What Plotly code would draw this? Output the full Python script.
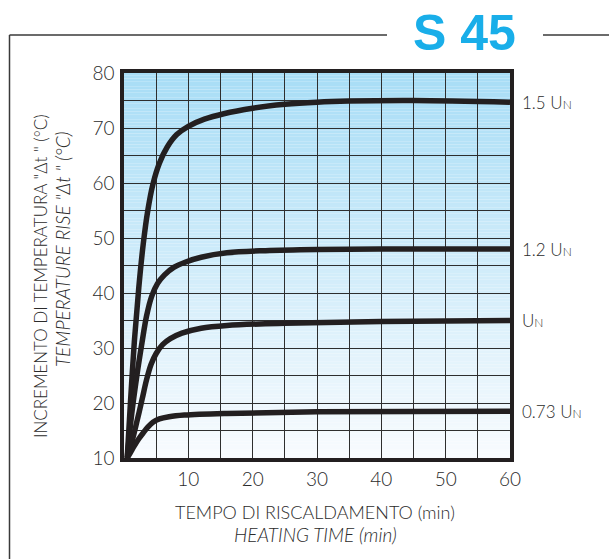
import plotly.graph_objects as go

# Heating curves of the S 45 unit: temperature rise vs heating time
time_15 = [0.5, 1.0, 1.6, 2.3, 3.0, 3.7, 4.5, 5.5, 6.7, 8.2, 10, 12.5, 15.5, 20, 25, 30, 35, 45, 60]
rise_15 = [10, 20, 31, 41, 49, 55, 59.8, 63.6, 66.5, 68.8, 70.3, 71.6, 72.6, 73.6, 74.3, 74.7, 74.9, 75, 74.7]

time_12 = [0.5, 1.2, 2.0, 2.8, 3.5, 4.3, 5.2, 6.3, 7.8, 9.5, 12, 16, 22, 30, 45, 60]
rise_12 = [10, 18, 25, 31, 35.8, 39.4, 41.7, 43.3, 44.7, 45.6, 46.5, 47.3, 47.7, 47.9, 48, 48]

time_10 = [0.5, 1.2, 2.0, 2.8, 3.5, 4.2, 5.0, 6.0, 7.2, 9, 12, 16, 25, 40, 60]
rise_10 = [10, 12.8, 16.6, 20.6, 24.2, 27.0, 29.0, 30.6, 31.7, 32.7, 33.6, 34.1, 34.5, 34.8, 35]

time_073 = [0.5, 1.0, 1.6, 2.3, 3.0, 3.7, 4.5, 5.5, 7, 9.4, 16, 30, 60]
rise_073 = [10, 11, 12.2, 13.5, 14.6, 15.6, 16.5, 17.1, 17.5, 17.8, 18.1, 18.4, 18.5]

series_labels = ["1.5 U<span style='font-size:12px'>N</span>",
                 "1.2 U<span style='font-size:12px'>N</span>",
                 "U<span style='font-size:12px'>N</span>",
                 "0.73 U<span style='font-size:12px'>N</span>"]

x_ticks = [10, 20, 30, 40, 50, 60]
y_ticks = [10, 20, 30, 40, 50, 60, 70, 80]

title_text = "S 45"
y_title_1 = "INCREMENTO DI TEMPERATURA \"\u0394t \" (\u00b0C)"
y_title_2 = "<i>TEMPERATURE RISE \"\u0394t \" (\u00b0C)</i>"
x_title_1 = "TEMPO DI RISCALDAMENTO (min)"
x_title_2 = "<i>HEATING TIME (min)</i>"

# page geometry (pixels)
W, H = 609, 559
L, R, T, B = 124, 510, 73, 458
X_RANGE = [0, 60]
Y_RANGE = [10, 80]


def fx(px):
    return (px - L) / (R - L)


def fy(py):
    return (B - py) / (B - T)


INK = "#231f20"
TXT = "#2b2b2b"
FONT = "Lato, 'Open Sans', sans-serif"

fig = go.Figure()

for t, v in [(time_15, rise_15), (time_12, rise_12), (time_10, rise_10), (time_073, rise_073)]:
    fig.add_trace(go.Scatter(
        x=t, y=v, mode="lines",
        line=dict(color=INK, width=5.5, shape="spline", smoothing=1.0),
        showlegend=False, hoverinfo="skip",
    ))

shapes = []
# vertical blue-to-white background, banded below the grid
top_c = (168, 221, 246)
bot_c = (248, 251, 254)
n_bands = 140
for i in range(n_bands):
    f = i / (n_bands - 1)
    c = tuple(round(bot_c[k] + (top_c[k] - bot_c[k]) * f) for k in range(3))
    y0 = Y_RANGE[0] + (Y_RANGE[1] - Y_RANGE[0]) * i / n_bands
    y1 = Y_RANGE[0] + (Y_RANGE[1] - Y_RANGE[0]) * (i + 1) / n_bands
    shapes.append(dict(type="rect", xref="paper", yref="y", x0=0, x1=1, y0=y0, y1=y1,
                       fillcolor="rgb(%d,%d,%d)" % c, line=dict(width=0), layer="below"))

# outer frame with a gap for the heading
frame = dict(color="#3a3a3a", width=1.5)
shapes.append(dict(type="line", xref="paper", yref="paper",
                   x0=fx(9.5), x1=fx(9.5), y0=fy(35), y1=fy(562), line=frame))
shapes.append(dict(type="line", xref="paper", yref="paper",
                   x0=fx(9.5), x1=fx(387), y0=fy(35), y1=fy(35), line=frame))
shapes.append(dict(type="line", xref="paper", yref="paper",
                   x0=fx(543), x1=fx(612), y0=fy(35), y1=fy(35), line=frame))

annotations = [
    dict(text=title_text, xref="paper", yref="paper", x=fx(464), y=fy(33),
         xanchor="center", yanchor="middle", showarrow=False,
         font=dict(family="'Liberation Sans', Arial, sans-serif",
                   size=50, color="#19aee9", weight="bold")),
    dict(text=y_title_1, xref="paper", yref="paper", x=fx(40), y=fy(276), textangle=-90,
         xanchor="center", yanchor="middle", showarrow=False,
         font=dict(family=FONT, size=17, color=TXT, weight=300)),
    dict(text=y_title_2, xref="paper", yref="paper", x=fx(62), y=fy(250), textangle=-90,
         xanchor="center", yanchor="middle", showarrow=False,
         font=dict(family=FONT, size=19, color=TXT, weight=300)),
    dict(text=x_title_1, xref="paper", yref="paper", x=fx(315), y=fy(512),
         xanchor="center", yanchor="middle", showarrow=False,
         font=dict(family=FONT, size=18, color=TXT, weight=300)),
    dict(text=x_title_2, xref="paper", yref="paper", x=fx(315), y=fy(534),
         xanchor="center", yanchor="middle", showarrow=False,
         font=dict(family=FONT, size=19, color=TXT, weight=300)),
]

for lbl, t, v in zip(series_labels,
                     [time_15, time_12, time_10, time_073],
                     [rise_15, rise_12, rise_10, rise_073]):
    annotations.append(dict(text=lbl, x=t[-1], y=v[-1], xref="x", yref="y",
                            xanchor="left", yanchor="middle", xshift=10, showarrow=False,
                            font=dict(family=FONT, size=17, color=TXT, weight=300)))

grid_c = "#2e2e2e"
tick_font = dict(family=FONT, size=19, color=TXT, weight=300)
fig.update_layout(
    width=W, height=H,
    margin=dict(l=L, r=W - R, t=T, b=H - B),
    paper_bgcolor="white", plot_bgcolor="white",
    shapes=shapes, annotations=annotations,
    xaxis=dict(range=X_RANGE, tickvals=x_ticks, showgrid=True, gridcolor=grid_c, gridwidth=1,
               minor=dict(dtick=5, tick0=0, showgrid=True, gridcolor=grid_c, gridwidth=1),
               showline=True, mirror=True, linecolor=INK, linewidth=3.5,
               ticks="", zeroline=False, ticklabelstandoff=1, tickfont=tick_font),
    yaxis=dict(range=Y_RANGE, tickvals=y_ticks, showgrid=True, gridcolor=grid_c, gridwidth=1,
               minor=dict(dtick=5, tick0=0, showgrid=True, gridcolor=grid_c, gridwidth=1),
               showline=True, mirror=True, linecolor=INK, linewidth=3.5,
               ticks="", zeroline=False, ticklabelstandoff=2, tickfont=tick_font),
)

fig.write_html("out.html")
